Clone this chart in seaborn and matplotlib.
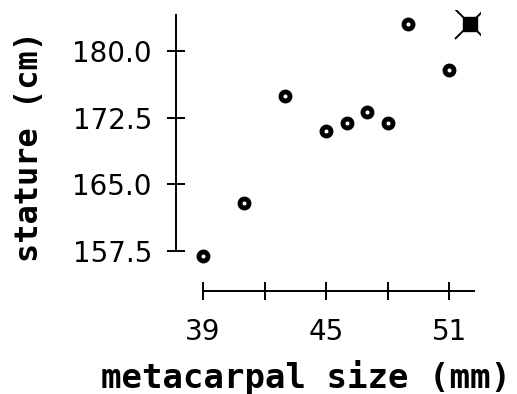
import matplotlib
matplotlib.use("Agg")
import matplotlib.pyplot as plt
import seaborn as sns
import pandas as pd

# metacarpal size (mm) vs stature (cm)
metacarpal = [39, 41, 43, 45, 46, 47, 48, 49, 51]
stature = [156.9, 162.9, 174.9, 171.0, 171.9, 173.1, 171.9, 183.0, 177.9]

# the highlighted point drawn with the square/cross marker
marked_x = [52]
marked_y = [183.0]

x_ticks = [39, 45, 51]
x_minor = [42, 48]
y_ticks = [157.5, 165.0, 172.5, 180.0]

sns.set_theme(style="white")
plt.rcParams["font.family"] = ["DejaVu Sans"]

df = pd.DataFrame({"metacarpal": metacarpal, "stature": stature})

fig = plt.figure(figsize=(5.17, 3.94), dpi=100)
ax = fig.add_axes([176 / 517, 1 - 291 / 394, 304 / 517, 281 / 394])

sns.scatterplot(data=df, x="metacarpal", y="stature", ax=ax,
                marker="o", s=42, facecolor="white", edgecolor="black",
                linewidth=3.5, zorder=3)
ax.plot(marked_x, marked_y, marker="x", ms=22, mew=1.4, color="black",
        linestyle="none", zorder=3)
ax.plot(marked_x, marked_y, marker="s", ms=10, color="black",
        linestyle="none", zorder=4)

ax.set_xlim(37.68, 52.51)
ax.set_ylim(153.0, 184.6)

for side in ["top", "right"]:
    ax.spines[side].set_visible(False)
for side in ["left", "bottom"]:
    ax.spines[side].set_color("black")
    ax.spines[side].set_linewidth(1.4)
ax.spines["bottom"].set_bounds(39, 52.2)
ax.spines["left"].set_bounds(157.5, 184.05)

ax.set_xticks(x_ticks)
ax.set_xticks(x_minor, minor=True)
ax.set_yticks(y_ticks)
ax.set_xticklabels([str(t) for t in x_ticks])
ax.set_yticklabels([f"{t:.1f}" for t in y_ticks])

ax.tick_params(axis="both", which="both", direction="inout", length=13,
               width=1.4, color="black", labelsize=20, labelcolor="black")
ax.tick_params(axis="x", which="both", bottom=True, pad=13)
ax.tick_params(axis="y", which="both", left=True, pad=10.8)

ax.set_xlabel("metacarpal size (mm)", family="DejaVu Sans Mono",
              fontweight="bold", fontsize=24.5, color="black")
ax.set_ylabel("stature (cm)", family="DejaVu Sans Mono",
              fontweight="bold", fontsize=23, color="black")
ax.xaxis.set_label_coords(306 / 517, 1 - 388 / 394, transform=fig.transFigure)
ax.xaxis.label.set_verticalalignment("baseline")
ax.yaxis.set_label_coords(45 / 517, 1 - 147 / 394, transform=fig.transFigure)

fig.savefig("out.png", dpi=100)
